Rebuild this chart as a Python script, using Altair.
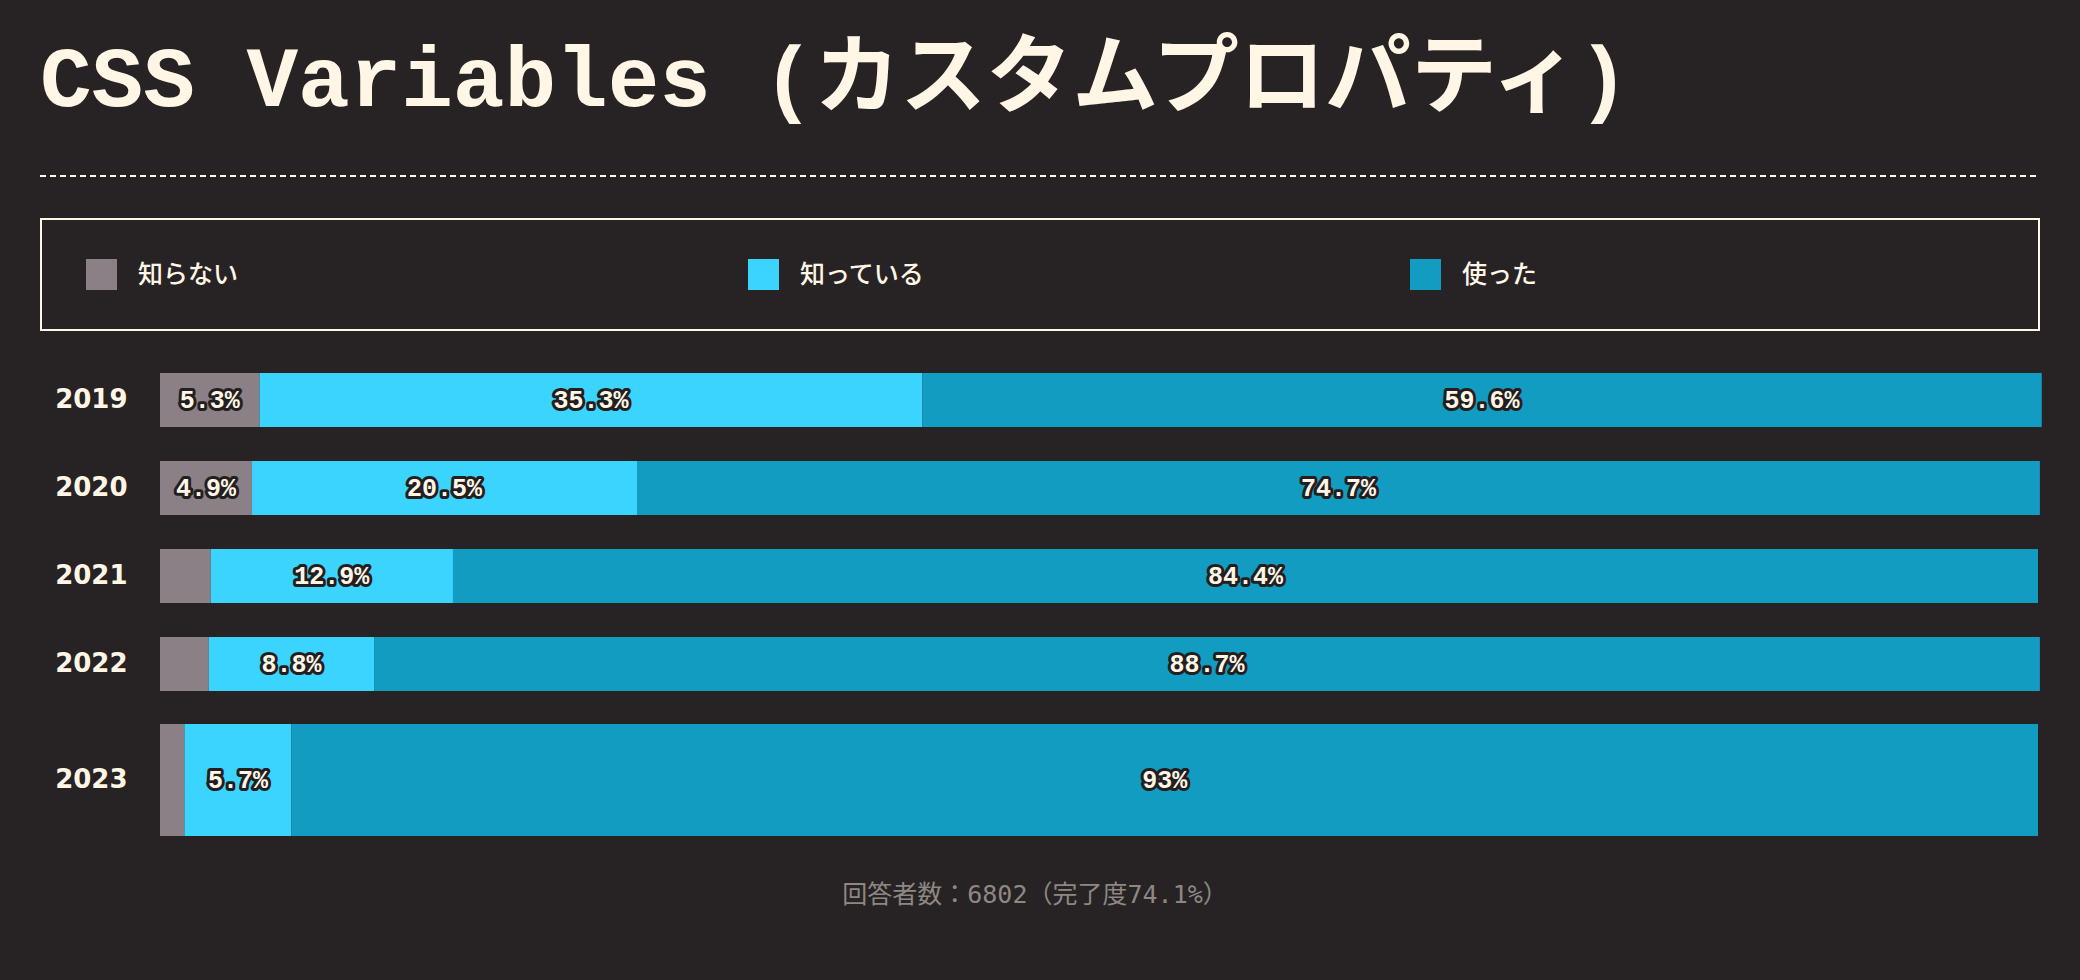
import altair as alt
import pandas as pd

years = ["2019", "2020", "2021", "2022", "2023"]
categories = ["知らない", "知っている", "使った"]
unaware = [5.3, 4.9, 2.7, 2.6, 1.3]
aware = [35.3, 20.5, 12.9, 8.8, 5.7]
used = [59.6, 74.7, 84.4, 88.7, 93.0]
colors = ["#8a8085", "#3ad4ff", "#139cc2"]
title_text = "CSS Variables (カスタムプロパティ)"
footer_text = "回答者数：6802（完了度74.1%）"

BG = "#272324"
CREAM = "#fff6e6"
OUTLINE = "#231f20"
GREY = "#8e8782"

rows = []
for i, y in enumerate(years):
    for j, vals in enumerate([unaware, aware, used]):
        rows.append({"year": y, "cat": categories[j], "order": j, "value": vals[i]})
df = pd.DataFrame(rows)

base = alt.Chart(df).transform_stack(
    stack="value", groupby=["year"], as_=["x0", "x1"],
    sort=[alt.SortField("order", order="ascending")]
).transform_calculate(
    mid="(datum.x0 + datum.x1) / 2", label="datum.value + '%'"
)

xscale = alt.Scale(domain=[0, 100], nice=False, zero=True)
yscale = alt.Scale(domain=years, paddingInner=0.3864, paddingOuter=0.1932)

yenc = alt.Y(
    "year:N", scale=yscale,
    axis=alt.Axis(
        title=None, domain=False, ticks=False, grid=False,
        labelPadding=33, labelFont="DejaVu Sans", labelFontWeight="bold",
        labelFontSize=26, labelColor=CREAM,
        labelOffset={"condition": {"test": "datum.value == '2023'", "value": 28}, "value": 0},
    ),
)

legend = alt.Legend(
    orient="none", legendX=-74, legendY=-97, direction="horizontal", columns=3,
    title=None, symbolType="square", symbolSize=961, symbolStrokeWidth=0,
    symbolOpacity=1, labelFont="Noto Sans CJK JP", labelFontSize=25,
    labelFontWeight=500, labelColor=CREAM, labelOffset=21, columnPadding=484,
    gridAlign="all", padding=0, labelLimit=400,
)
color = alt.Color("cat:N", scale=alt.Scale(domain=categories, range=colors), legend=legend)

main = base.transform_filter("datum.year != '2023'")
last = base.transform_filter("datum.year == '2023'")

bars_main = main.mark_bar().encode(
    x=alt.X("x0:Q", scale=xscale, axis=None), x2="x1:Q", y=yenc, color=color
)
bars_last = last.mark_bar(size=112, yOffset=28).encode(
    x=alt.X("x0:Q", scale=xscale, axis=None), x2="x1:Q", y=yenc, color=color
)

def labels(src, dy):
    lab = src.transform_filter("datum.value >= 4")
    common = dict(font="Liberation Mono", fontWeight="bold", fontSize=25,
                  align="center", baseline="middle", dy=dy)
    halo = lab.mark_text(stroke=OUTLINE, strokeWidth=6, strokeJoin="round",
                         fill=OUTLINE, **common).encode(
        x=alt.X("mid:Q", scale=xscale, axis=None), y=yenc, text="label:N")
    front = lab.mark_text(fill=CREAM, **common).encode(
        x=alt.X("mid:Q", scale=xscale, axis=None), y=yenc, text="label:N")
    return [halo, front]

one = pd.DataFrame({"t": [footer_text]})
box = alt.Chart(one).mark_rect(fillOpacity=0, stroke=CREAM, strokeWidth=2).encode(
    x=alt.value(-119), x2=alt.value(1879), y=alt.value(-137), y2=alt.value(-26)
)
dash = alt.Chart(one).mark_rule(stroke=CREAM, strokeWidth=2, strokeDash=[6, 4]).encode(
    x=alt.value(-120), x2=alt.value(1880), y=alt.value(-180)
)
footer = alt.Chart(one).mark_text(
    font="DejaVu Sans Mono, Noto Sans CJK JP", fontSize=25, color=GREY,
    align="center", baseline="middle"
).encode(x=alt.value(875), y=alt.value(539), text="t:N")

chart = alt.layer(
    box, dash, bars_main, bars_last,
    *labels(main, 0), *labels(last, 28), footer
).properties(
    width=1878, height=440,
    title=alt.TitleParams(
        text=title_text, anchor="start", frame="group",
        font="Liberation Mono, Noto Sans CJK JP", fontSize=86, fontWeight="bold",
        color=CREAM, dx=-120, dy=87, offset=70, baseline="alphabetic",
    ),
    autosize=alt.AutoSizeParams(type="none"),
    padding={"left": 160, "top": 356, "right": 42, "bottom": 184},
).configure(background=BG).configure_view(stroke=None)

chart.save("out.html", embed_options={"renderer": "svg", "actions": False})
